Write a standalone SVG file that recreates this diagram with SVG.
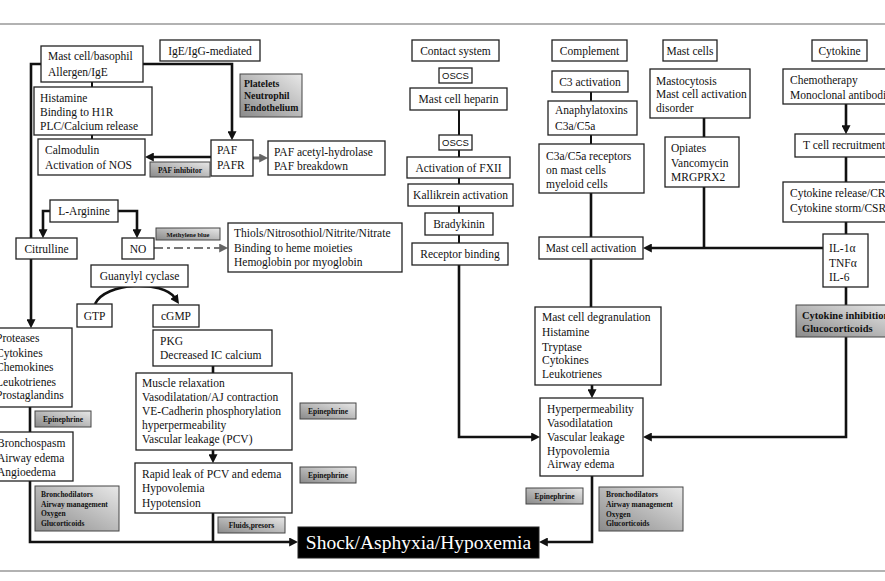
<svg xmlns="http://www.w3.org/2000/svg" width="885" height="581" viewBox="0 0 885 581">
<defs>
<linearGradient id="gr" x1="0" y1="1" x2="1" y2="0">
<stop offset="0" stop-color="#8a8a8a"/>
<stop offset="1" stop-color="#e8e8e8"/>
</linearGradient>
<marker id="ah" viewBox="0 0 10 10" refX="2" refY="5" markerWidth="9" markerHeight="9" markerUnits="userSpaceOnUse" orient="auto">
<path d="M0,0 L10,5 L0,10 z" fill="#111"/>
</marker>
<marker id="ahg" viewBox="0 0 10 10" refX="2" refY="5" markerWidth="9" markerHeight="9" markerUnits="userSpaceOnUse" orient="auto">
<path d="M0,0 L10,5 L0,10 z" fill="#666"/>
</marker>
<style>
.b{fill:#fff;stroke:#222;stroke-width:1.3}
.g{fill:url(#gr);stroke:#444;stroke-width:1}
.k{fill:#000;stroke:#222;stroke-width:1}
text{font-family:"Liberation Serif","Times New Roman",serif;font-size:11.5px;fill:#111}
.c{text-anchor:middle}
.sm{font-size:7.5px;font-weight:bold}
.md{font-size:9.8px;font-weight:bold}
.sans{font-family:"Liberation Sans",Arial,sans-serif;font-size:9.5px}
.ln{fill:none;stroke:#111;stroke-width:2.6}
.lt{fill:none;stroke:#111;stroke-width:2}
.a{marker-end:url(#ah)}
.frame{stroke:#999;stroke-width:1.5}
</style>
</defs>
<rect width="885" height="581" fill="#fff"/>
<line class="frame" x1="0" y1="24" x2="885" y2="24"/>
<line class="frame" x1="0" y1="571" x2="885" y2="571"/>

<g id="connectors">
<path class="ln a" d="M143 64 H232 V133"/>
<path class="ln" d="M41 64 H31 V238"/>
<path class="ln a" d="M31 259 V321"/>
<path class="ln a" d="M50 211 H43 V231"/>
<path class="ln a" d="M118 211 H137 V231"/>
<path class="ln a" d="M211 157 H152"/>
<path fill="none" stroke="#666" stroke-width="3" marker-end="url(#ahg)" d="M253 158 H261"/>
<path fill="none" stroke="#777" stroke-width="2" stroke-dasharray="9,4,3,4" marker-end="url(#ahg)" d="M154 248 H221"/>
<path class="ln a" d="M95 304 C 105 282, 163 280, 175 298"/>
<path class="ln" d="M213 366 V373"/>
<path class="ln a" d="M213 450 V456"/>
<path class="ln" d="M30 407 V432"/>
<path class="ln a" d="M30 481 V542 H291"/>
<path class="ln" d="M213 513 V542"/>
<path class="lt" d="M92 82 V87 M92 135 V139"/>
<path class="lt" d="M459 110 V135 M459 150 V157 M459 178 V184 M459 206 V213 M459 235 V243"/>
<path class="ln a" d="M459 265 V437 H533"/>
<path class="lt" d="M591 92 V101 M591 135 V144"/>
<path class="ln" d="M591 193 V237 M591 259 V307"/>
<path class="ln a" d="M592 385 V391"/>
<path class="ln a" d="M592 476 V542 H546"/>
<path class="ln" d="M704 118 V137 M704 187 V248"/>
<path class="ln a" d="M823 248 H650"/>
<path class="ln a" d="M846 104 V127"/>
<path class="ln" d="M846 157 V182 M846 222 V234 M846 287 V305"/>
<path class="ln a" d="M846 337 V437 H650"/>
</g>

<g id="mastcell"><rect class="b" x="41" y="46" width="102" height="36"/><text x="48" y="60">Mast cell/basophil</text><text x="48" y="76">Allergen/IgE</text></g>
<g id="ige"><rect class="b" x="160" y="40" width="100" height="21"/><text class="c" x="210" y="55">IgE/IgG-mediated</text></g>
<g id="platelets"><rect class="g" x="240" y="74" width="62" height="43"/><text class="md" x="244" y="87">Platelets</text><text class="md" x="244" y="99">Neutrophil</text><text class="md" x="244" y="111">Endothelium</text></g>
<g id="histamine"><rect class="b" x="34" y="87" width="118" height="48"/><text x="40" y="102">Histamine</text><text x="40" y="116">Binding  to H1R</text><text x="40" y="130">PLC/Calcium  release</text></g>
<g id="calmodulin"><rect class="b" x="38" y="139" width="107" height="36"/><text x="45" y="154">Calmodulin</text><text x="45" y="169">Activation  of NOS</text></g>
<g id="paf"><rect class="b" x="211" y="140" width="42" height="36"/><text x="217" y="154">PAF</text><text x="217" y="169">PAFR</text></g>
<g id="pafah"><rect class="b" x="268" y="141" width="117" height="34"/><text x="274" y="156">PAF acetyl-hydrolase</text><text x="274" y="170">PAF breakdown</text></g>
<g id="pafinh"><rect class="g" x="150" y="162" width="60" height="15"/><text class="c sm" x="180" y="172.5">PAF inhibitor</text></g>
<g id="larg"><rect class="b" x="50" y="200" width="68" height="22"/><text class="c" x="84" y="215">L-Arginine</text></g>
<g id="citrulline"><rect class="b" x="16" y="238" width="61" height="21"/><text class="c" x="46.5" y="253">Citrulline</text></g>
<g id="no"><rect class="b" x="122" y="238" width="32" height="21"/><text class="c" x="138" y="253">NO</text></g>
<g id="methylene"><rect class="g" x="156" y="228" width="64" height="12"/><text class="c" x="188" y="237" style="font-size:6.5px;font-weight:bold">Methylene blue</text></g>
<g id="thiols"><rect class="b" x="228" y="223" width="174" height="49"/><text x="234" y="237">Thiols/Nitrosothiol/Nitrite/Nitrate</text><text x="234" y="252">Binding  to heme  moieties</text><text x="234" y="266">Hemoglobin  por myoglobin</text></g>
<g id="guanylyl"><rect class="b" x="91" y="265" width="97" height="22"/><text class="c" x="139.5" y="280">Guanylyl  cyclase</text></g>
<g id="gtp"><rect class="b" x="77" y="304" width="35" height="23"/><text class="c" x="94.5" y="320">GTP</text></g>
<g id="cgmp"><rect class="b" x="153" y="305" width="46" height="22"/><text class="c" x="176" y="320">cGMP</text></g>
<g id="pkg"><rect class="b" x="153" y="330" width="119" height="36"/><text x="160" y="345">PKG</text><text x="160" y="359">Decreased IC calcium</text></g>
<g id="muscle"><rect class="b" x="136" y="373" width="156" height="77"/><text x="142" y="387">Muscle  relaxation</text><text x="142" y="401">Vasodilatation/AJ  contraction</text><text x="142" y="415">VE-Cadherin  phosphorylation</text><text x="142" y="429">hyperpermeability</text><text x="142" y="443">Vascular  leakage  (PCV)</text></g>
<g id="rapid"><rect class="b" x="135" y="463" width="157" height="50"/><text x="142" y="478">Rapid leak of PCV and edema</text><text x="142" y="492">Hypovolemia</text><text x="142" y="507">Hypotension</text></g>
<g id="epi1"><rect class="g" x="300" y="403" width="56" height="16"/><text class="c sm" x="328" y="414">Epinephrine</text></g>
<g id="epi2"><rect class="g" x="300" y="467" width="56" height="16"/><text class="c sm" x="328" y="478">Epinephrine</text></g>
<g id="fluids"><rect class="g" x="218" y="517" width="67" height="16"/><text class="c sm" x="251.5" y="528">Fluids,presors</text></g>
<g id="proteases"><rect class="b" x="-2" y="328" width="74" height="79"/><text x="-4" y="342">Proteases</text><text x="-4" y="357">Cytokines</text><text x="-4" y="371">Chemokines</text><text x="-4" y="386">Leukotrienes</text><text x="-4" y="399">Prostaglandins</text></g>
<g id="epi0"><rect class="g" x="35" y="411" width="56" height="16"/><text class="c sm" x="63" y="422">Epinephrine</text></g>
<g id="broncho"><rect class="b" x="-2" y="432" width="75" height="49"/><text x="-3" y="447">Bronchospasm</text><text x="-3" y="462">Airway  edema</text><text x="-3" y="476">Angioedema</text></g>
<g id="bronchodil1"><rect class="g" x="35" y="486" width="84" height="45"/><text class="sm" x="41" y="497">Bronchodilators</text><text class="sm" x="41" y="506.5">Airway management</text><text class="sm" x="41" y="516">Oxygen</text><text class="sm" x="41" y="525.5">Glucorticoids</text></g>
<g id="shock"><rect class="k" x="298" y="527" width="241" height="31"/><text class="c" x="418.5" y="549" style="font-size:19.5px;fill:#fff">Shock/Asphyxia/Hypoxemia</text></g>

<g id="contact"><rect class="b" x="412" y="40" width="87" height="21"/><text class="c" x="455.5" y="55">Contact system</text></g>
<g id="oscs1"><rect class="b" x="439" y="68" width="33" height="15"/><text class="c sans" x="455.5" y="79">OSCS</text></g>
<g id="heparin"><rect class="b" x="410" y="88" width="97" height="22"/><text class="c" x="458.5" y="103">Mast cell heparin</text></g>
<g id="oscs2"><rect class="b" x="439" y="135" width="33" height="15"/><text class="c sans" x="455.5" y="146">OSCS</text></g>
<g id="fxii"><rect class="b" x="407" y="157" width="103" height="21"/><text class="c" x="458.5" y="172">Activation  of FXII</text></g>
<g id="kallikrein"><rect class="b" x="408" y="184" width="105" height="22"/><text class="c" x="460.5" y="199">Kallikrein  activation</text></g>
<g id="bradykinin"><rect class="b" x="425" y="213" width="68" height="22"/><text class="c" x="459" y="228">Bradykinin</text></g>
<g id="receptor"><rect class="b" x="412" y="243" width="96" height="22"/><text class="c" x="460" y="258">Receptor binding</text></g>

<g id="complement"><rect class="b" x="552" y="40" width="75" height="21"/><text class="c" x="589.5" y="55">Complement</text></g>
<g id="c3"><rect class="b" x="552" y="71" width="76" height="21"/><text class="c" x="590" y="86">C3 activation</text></g>
<g id="anaphyl"><rect class="b" x="548" y="101" width="89" height="34"/><text x="555" y="114">Anaphylatoxins</text><text x="555" y="130">C3a/C5a</text></g>
<g id="c3ar"><rect class="b" x="539" y="144" width="105" height="49"/><text x="546" y="160">C3a/C5a receptors</text><text x="546" y="174">on mast cells</text><text x="546" y="188">myeloid  cells</text></g>
<g id="mastcells"><rect class="b" x="663" y="40" width="54" height="21"/><text class="c" x="690" y="55">Mast cells</text></g>
<g id="mastocytosis"><rect class="b" x="650" y="69" width="100" height="49"/><text x="656" y="85">Mastocytosis</text><text x="656" y="98">Mast cell activation</text><text x="656" y="112">disorder</text></g>
<g id="opiates"><rect class="b" x="665" y="137" width="74" height="50"/><text x="671" y="152">Opiates</text><text x="671" y="167">Vancomycin</text><text x="671" y="181">MRGPRX2</text></g>
<g id="mcact"><rect class="b" x="539" y="237" width="104" height="22"/><text class="c" x="591" y="252">Mast cell activation</text></g>
<g id="degran"><rect class="b" x="535" y="307" width="126" height="78"/><text x="542" y="321">Mast cell  degranulation</text><text x="542" y="336">Histamine</text><text x="542" y="351">Tryptase</text><text x="542" y="364">Cytokines</text><text x="542" y="378">Leukotrienes</text></g>
<g id="hyper"><rect class="b" x="540" y="398" width="103" height="78"/><text x="547" y="413">Hyperpermeability</text><text x="547" y="427">Vasodilatation</text><text x="547" y="441">Vascular  leakage</text><text x="547" y="455">Hypovolemia</text><text x="547" y="468">Airway  edema</text></g>
<g id="epi3"><rect class="g" x="526" y="488" width="57" height="16"/><text class="c sm" x="554.5" y="499">Epinephrine</text></g>
<g id="bronchodil2"><rect class="g" x="599" y="487" width="84" height="44"/><text class="sm" x="606" y="497">Bronchodilators</text><text class="sm" x="606" y="507">Airway management</text><text class="sm" x="606" y="517">Oxygen</text><text class="sm" x="606" y="526">Glucorticoids</text></g>

<g id="cytokine"><rect class="b" x="812" y="40" width="55" height="21"/><text class="c" x="839.5" y="55">Cytokine</text></g>
<g id="chemo"><rect class="b" x="783" y="69" width="110" height="35"/><text x="790" y="84">Chemotherapy</text><text x="790" y="99">Monoclonal  antibodies</text></g>
<g id="tcell"><rect class="b" x="795" y="134" width="100" height="23"/><text x="803" y="149">T cell  recruitment</text></g>
<g id="cytrelease"><rect class="b" x="783" y="182" width="110" height="40"/><text x="790" y="197">Cytokine  release/CRS</text><text x="790" y="212">Cytokine  storm/CSRS</text></g>
<g id="il"><rect class="b" x="823" y="234" width="45" height="53"/><text x="829" y="252">IL-1α</text><text x="829" y="267">TNFα</text><text x="829" y="281">IL-6</text></g>
<g id="cytinh"><rect class="g" x="796" y="305" width="100" height="32"/><text x="802" y="319" style="font-size:10.5px;font-weight:bold">Cytokine inhibition</text><text x="802" y="332" style="font-size:10.5px;font-weight:bold">Glucocorticoids</text></g>
</svg>
